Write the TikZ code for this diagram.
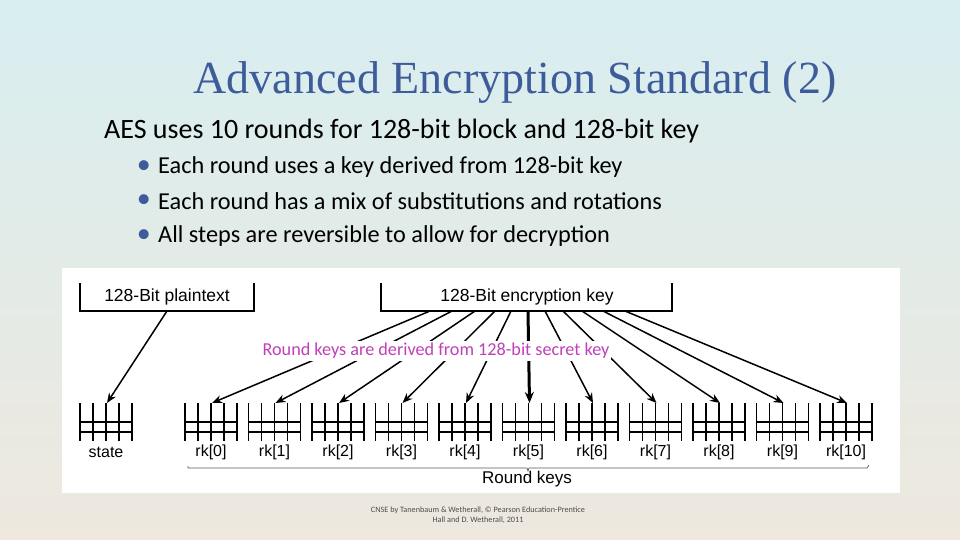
\documentclass[tikz,border=0pt]{standalone}
\usepackage{fontspec}
\setmainfont{Carlito}
\newfontfamily\titlefont{Liberation Serif}
\newfontfamily\arialf{Liberation Sans}
\usetikzlibrary{arrows.meta}
\definecolor{titleblue}{HTML}{3E5C9A}
\definecolor{pinkish}{HTML}{C040B8}
\definecolor{bgtop}{HTML}{D8EEF0}
\definecolor{bgbot}{HTML}{EEE8DE}
\tikzset{
  ln/.style={line width=1.1pt},
  arr/.style={line width=1.5pt,-{Stealth[length=10pt,width=8pt]}},
  lab/.style={font=\arialf\fontsize{16}{18}\selectfont,inner sep=1pt},
}
\begin{document}
\begin{tikzpicture}[x=1pt,y=-1pt]
\shade[top color=bgtop,bottom color=bgbot] (0,0) rectangle (960,540);
\useasboundingbox (0,0) rectangle (960,540);
\fill[white] (62,268) rectangle (900,493);
\node[font=\titlefont\fontsize{46}{50}\selectfont,text=titleblue] (title) at (515,83) {Advanced Encryption Standard (2)};
\node[anchor=west,font=\fontsize{28}{32}\selectfont,inner sep=0] (l1) at (104,131) {AES uses 10 rounds for 128-bit block and 128-bit key};
\foreach \y/\t [count=\i] in {167/Each round uses a key derived from 128-bit key,201/Each round has a mix of substitutions and rotations,236/All steps are reversible to allow for decryption}{
  \node[anchor=west,font=\fontsize{24.3}{28}\selectfont,inner sep=0] (b\i) at (158,\y) {\t};
  \node[anchor=east,font=\fontsize{28}{30}\selectfont,text=titleblue,inner sep=0] (d\i) at (151,\y) {\textbullet};
}
% boxes
\draw[ln] (80,283) -- (80,311) -- (254,311) -- (254,283);
\node[lab,font=\arialf\fontsize{17.5}{20}\selectfont] (pt) at (167,297) {128-Bit plaintext};
\draw[ln] (381,283) -- (381,311) -- (672,311) -- (672,283);
\node[lab,font=\arialf\fontsize{17.5}{20}\selectfont] (key) at (527,297) {128-Bit encryption key};
% grids
\foreach \L/\name/\txt in {80/st/state,185/r0/{rk[0]},248.5/r1/{rk[1]},312/r2/{rk[2]},375.5/r3/{rk[3]},439/r4/{rk[4]},502.5/r5/{rk[5]},566/r6/{rk[6]},629.5/r7/{rk[7]},693/r8/{rk[8]},756.5/r9/{rk[9]},820/r10/{rk[10]}}{
  \foreach \k in {0,13,26,39,52} \draw[ln] (\L+\k,403) -- (\L+\k,441);
  \draw[ln] (\L,422) -- (\L+52,422);
  \draw[ln] (\L,432) -- (\L+52,432);
  \coordinate (\name) at (\L+27,403);
  \node[lab] (t\name) at (\L+26,452) {\txt};
}
\draw[arr] (167,311) -- (st);
\foreach \sx/\name in {430/r0,452/r1,475/r2,495/r3,511/r4,545/r6,563/r7,582/r8,603/r9,625/r10}
  \draw[arr] (\sx,311) -- (\name);
\draw[line width=3pt,-{Stealth[length=11pt,width=9pt]}] (528,311) -- (r5);
\node[fill=white,inner sep=2pt,text=pinkish,font=\fontsize{18.2}{21}\selectfont] (rl) at (436,351) {Round keys are derived from 128-bit secret key};
% brace
\draw[line width=0.7pt,gray!70!black] (188,466) -- (188,468) -- (527,468) -- (528,471) -- (529,468) -- (867,468) -- (869,465);
\node[lab,font=\arialf\fontsize{17}{19}\selectfont] (rk) at (527,479) {Round keys};
\node[align=center,font=\fontsize{8.2}{10}\selectfont,text=black!70] (cr) at (478,515) {CNSE by Tanenbaum \& Wetherall, © Pearson Education-Prentice\\Hall and D. Wetherall, 2011};
\end{tikzpicture}
\end{document}
